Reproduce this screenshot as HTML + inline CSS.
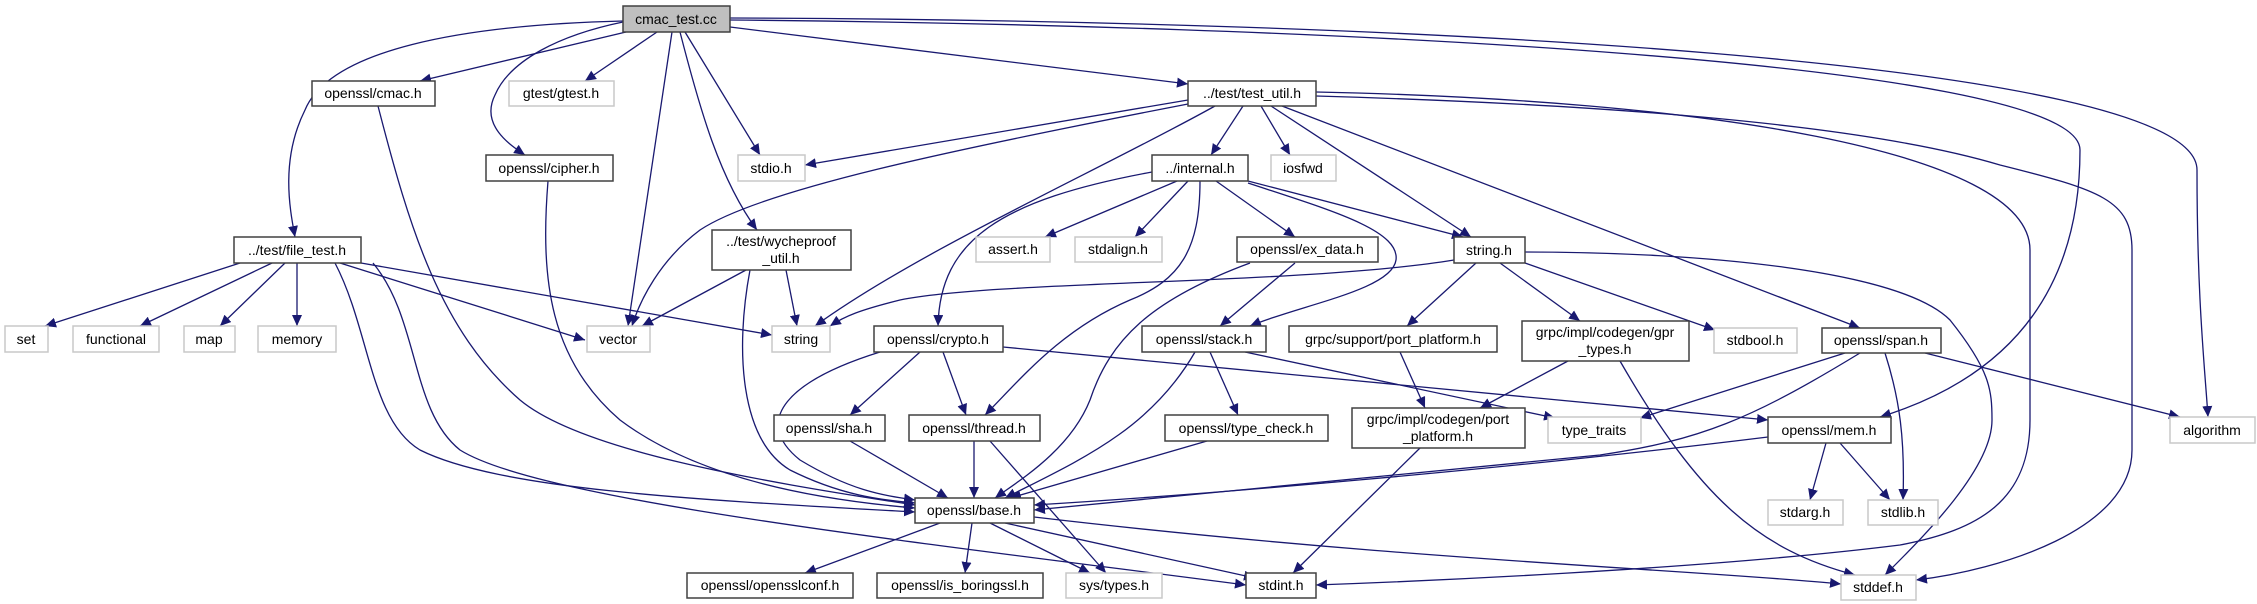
<!DOCTYPE html>
<html><head><meta charset="utf-8"><style>
html,body{margin:0;padding:0;background:#fff}
svg{display:block}
text{font-family:"Liberation Sans",sans-serif;font-size:14px;fill:#000}
</style></head><body>
<svg width="2257" height="604" viewBox="0 0 2257 604" xmlns="http://www.w3.org/2000/svg">
<defs>
<marker id="a" markerWidth="12" markerHeight="10" refX="11" refY="5" orient="auto" markerUnits="userSpaceOnUse">
<path d="M0,0 L11,5 L0,10 z" fill="#191970"/>
</marker>
</defs>
<g fill="none" stroke="#191970" stroke-width="1.3" marker-end="url(#a)">
<!-- cmac_test.cc -->
<path d="M623,21 C460,25 330,50 305,110 C280,160 290,210 295,237"/>
<path d="M626,32 L420,81"/>
<path d="M657,32 L585,81"/>
<path d="M623,22 C560,35 510,60 495,95 C480,125 510,145 525,155"/>
<path d="M672,32 L628,326"/>
<path d="M685,32 L760,155"/>
<path d="M680,32 C700,110 720,180 757,230"/>
<path d="M730,27 L1188,84"/>
<path d="M730,20 C1300,25 2080,60 2080,150 C2080,300 2000,380 1880,417"/>
<path d="M730,18 C1400,20 2197,60 2197,170 C2197,300 2205,370 2208,417"/>
<!-- cmac.h / cipher.h -->
<path d="M378,106 C410,230 440,330 520,400 C580,450 750,480 915,505"/>
<path d="M548,181 C540,280 550,360 620,420 C700,480 820,500 915,508"/>
<!-- file_test.h -->
<path d="M240,263 L45,326"/>
<path d="M272,263 L140,326"/>
<path d="M285,263 L220,326"/>
<path d="M297,263 L297,326"/>
<path d="M340,263 L585,340"/>
<path d="M361,263 L772,335"/>
<path d="M335,263 C370,330 370,420 420,450 C500,490 700,500 915,512"/>
<path d="M373,263 C420,320 410,410 460,450 C540,500 900,540 1246,585"/>
<!-- wycheproof -->
<path d="M746,270 L642,326"/>
<path d="M786,270 L797,326"/>
<path d="M750,270 C735,350 740,440 790,470 C840,495 880,500 915,503"/>
<!-- test_util.h -->
<path d="M1188,100 L805,165"/>
<path d="M1188,104 C950,150 760,190 700,230 C660,260 640,300 632,326"/>
<path d="M1215,106 C1100,170 920,250 815,326"/>
<path d="M1243,106 L1211,155"/>
<path d="M1261,106 L1290,155"/>
<path d="M1271,106 L1471,237"/>
<path d="M1282,106 L1860,328"/>
<path d="M1316,92 C1700,100 2030,150 2030,250 L2030,420 C2030,500 1980,530 1900,545 C1700,570 1400,582 1316,585"/>
<path d="M1316,96 C1800,110 1950,150 2000,165 C2100,190 2132,200 2132,250 L2132,450 C2132,530 2000,570 1916,580"/>
<!-- internal.h -->
<path d="M1177,181 L1045,237"/>
<path d="M1188,181 L1135,237"/>
<path d="M1216,181 L1295,237"/>
<path d="M1248,181 L1463,237"/>
<path d="M1152,172 C1000,200 940,240 938,326"/>
<path d="M1200,181 C1200,250 1180,280 1130,300 C1060,330 1020,380 985,415"/>
<path d="M1248,183 C1330,210 1400,230 1396,260 C1392,290 1300,305 1250,326"/>
<!-- ex_data -->
<path d="M1295,263 L1220,326"/>
<path d="M1250,263 C1150,300 1110,340 1090,400 C1070,450 1020,480 995,498"/>
<!-- string.h -->
<path d="M1454,260 C1300,285 1000,280 900,300 C860,310 845,316 830,326"/>
<path d="M1476,263 L1407,326"/>
<path d="M1500,263 L1580,321"/>
<path d="M1525,263 L1715,330"/>
<path d="M1525,252 C1700,252 1900,270 1950,320 C1990,370 1992,390 1992,420 C1992,470 1920,540 1885,575"/>
<!-- crypto -->
<path d="M880,352 C790,380 750,420 800,460 C850,490 880,495 915,500"/>
<path d="M920,352 L850,415"/>
<path d="M943,352 L966,415"/>
<path d="M1003,347 L1768,420"/>
<!-- stack -->
<path d="M1195,352 C1150,430 1080,460 1005,498"/>
<path d="M1210,352 L1238,415"/>
<path d="M1245,352 L1555,418"/>
<!-- grpc -->
<path d="M1400,352 L1425,408"/>
<path d="M1568,361 L1480,408"/>
<path d="M1620,361 C1700,500 1760,550 1855,575"/>
<!-- row 3 -->
<path d="M850,441 L948,498"/>
<path d="M974,441 L974,498"/>
<path d="M990,441 L1106,573"/>
<path d="M1207,441 L1010,498"/>
<path d="M1420,448 L1293,573"/>
<!-- span / mem -->
<path d="M1860,353 C1750,420 1700,440 1600,455 C1400,475 1200,495 1034,510"/>
<path d="M1768,437 C1500,470 1200,495 1034,505"/>
<path d="M1845,353 L1640,418"/>
<path d="M1885,353 C1900,400 1905,440 1903,500"/>
<path d="M1925,353 L2180,417"/>
<path d="M1826,443 L1810,500"/>
<path d="M1840,443 L1890,500"/>
<!-- base.h -->
<path d="M940,523 L805,573"/>
<path d="M972,523 L965,573"/>
<path d="M990,523 L1090,573"/>
<path d="M1005,523 L1255,578"/>
<path d="M1034,517 C1400,560 1700,570 1841,584"/>
</g>
<g stroke-width="1.5">
<!-- black nodes -->
<g fill="#fff" stroke="#404040">
<rect x="312" y="81" width="123" height="25"/>
<rect x="486" y="155" width="127" height="26"/>
<rect x="234" y="237" width="127" height="26"/>
<rect x="712" y="230" width="139" height="40"/>
<rect x="1188" y="81" width="128" height="25"/>
<rect x="1152" y="155" width="96" height="26"/>
<rect x="1237" y="237" width="141" height="25"/>
<rect x="1454" y="237" width="71" height="26"/>
<rect x="874" y="326" width="129" height="26"/>
<rect x="1142" y="326" width="124" height="26"/>
<rect x="1289" y="326" width="208" height="26"/>
<rect x="1522" y="321" width="167" height="40"/>
<rect x="1822" y="328" width="119" height="25"/>
<rect x="774" y="415" width="111" height="26"/>
<rect x="909" y="415" width="131" height="26"/>
<rect x="1165" y="415" width="163" height="26"/>
<rect x="1352" y="408" width="173" height="40"/>
<rect x="1768" y="417" width="123" height="26"/>
<rect x="915" y="498" width="119" height="25"/>
<rect x="687" y="573" width="166" height="25"/>
<rect x="877" y="573" width="166" height="25"/>
<rect x="1246" y="573" width="70" height="25"/>
</g>
<g fill="#fff" stroke="#c8c8c8">
<rect x="509" y="81" width="105" height="25"/>
<rect x="738" y="155" width="67" height="26"/>
<rect x="1271" y="155" width="65" height="26"/>
<rect x="976" y="237" width="74" height="25"/>
<rect x="1075" y="237" width="87" height="25"/>
<rect x="5" y="326" width="43" height="26"/>
<rect x="73" y="326" width="86" height="26"/>
<rect x="184" y="326" width="51" height="26"/>
<rect x="258" y="326" width="78" height="26"/>
<rect x="587" y="326" width="63" height="26"/>
<rect x="772" y="326" width="58" height="26"/>
<rect x="1714" y="328" width="83" height="25"/>
<rect x="1548" y="417" width="93" height="26"/>
<rect x="2170" y="417" width="85" height="26"/>
<rect x="1768" y="500" width="75" height="25"/>
<rect x="1868" y="500" width="70" height="25"/>
<rect x="1066" y="573" width="96" height="25"/>
<rect x="1841" y="575" width="75" height="25"/>
</g>
<rect x="623" y="6" width="107" height="26" fill="#bfbfbf" stroke="#404040"/>
</g>
<g text-anchor="middle">
<text x="676" y="24">cmac_test.cc</text>
<text x="373" y="98">openssl/cmac.h</text>
<text x="561" y="98">gtest/gtest.h</text>
<text x="549" y="173">openssl/cipher.h</text>
<text x="297" y="255">../test/file_test.h</text>
<text x="771" y="173">stdio.h</text>
<text x="781" y="246">../test/wycheproof</text>
<text x="781" y="263">_util.h</text>
<text x="1252" y="98">../test/test_util.h</text>
<text x="1200" y="173">../internal.h</text>
<text x="1303" y="173">iosfwd</text>
<text x="1013" y="254">assert.h</text>
<text x="1118" y="254">stdalign.h</text>
<text x="1307" y="254">openssl/ex_data.h</text>
<text x="1489" y="255">string.h</text>
<text x="26" y="344">set</text>
<text x="116" y="344">functional</text>
<text x="209" y="344">map</text>
<text x="297" y="344">memory</text>
<text x="618" y="344">vector</text>
<text x="801" y="344">string</text>
<text x="938" y="344">openssl/crypto.h</text>
<text x="1204" y="344">openssl/stack.h</text>
<text x="1393" y="344">grpc/support/port_platform.h</text>
<text x="1605" y="337">grpc/impl/codegen/gpr</text>
<text x="1605" y="354">_types.h</text>
<text x="1755" y="345">stdbool.h</text>
<text x="1881" y="345">openssl/span.h</text>
<text x="829" y="433">openssl/sha.h</text>
<text x="974" y="433">openssl/thread.h</text>
<text x="1246" y="433">openssl/type_check.h</text>
<text x="1438" y="424">grpc/impl/codegen/port</text>
<text x="1438" y="441">_platform.h</text>
<text x="1594" y="435">type_traits</text>
<text x="1829" y="435">openssl/mem.h</text>
<text x="2212" y="435">algorithm</text>
<text x="974" y="515">openssl/base.h</text>
<text x="1805" y="517">stdarg.h</text>
<text x="1903" y="517">stdlib.h</text>
<text x="770" y="590">openssl/opensslconf.h</text>
<text x="960" y="590">openssl/is_boringssl.h</text>
<text x="1114" y="590">sys/types.h</text>
<text x="1281" y="590">stdint.h</text>
<text x="1878" y="592">stddef.h</text>
</g>
</svg>
</body></html>
